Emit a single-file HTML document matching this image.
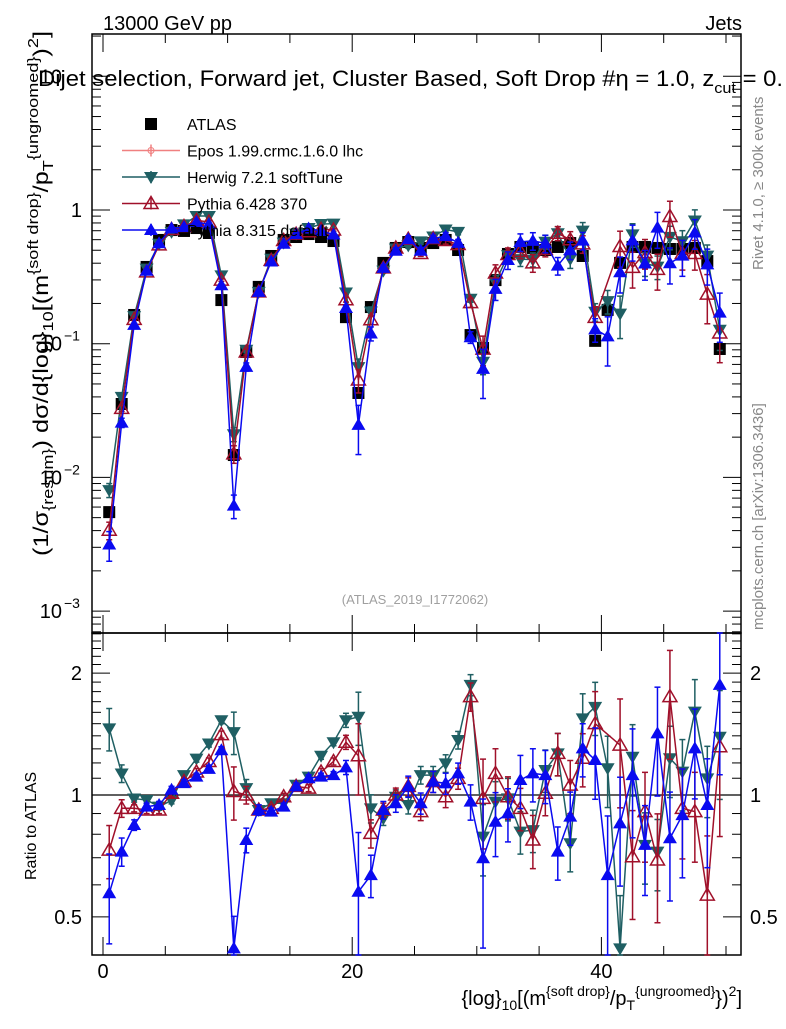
<!DOCTYPE html>
<html><head><meta charset="utf-8"><style>
body{margin:0;background:#fff;}
svg text{font-family:"Liberation Sans",sans-serif;}
</style></head><body>
<svg id="c" width="786" height="1024" viewBox="0 0 786 1024" xmlns="http://www.w3.org/2000/svg">
<rect x="0" y="0" width="786" height="1024" fill="#fff"/>
<text x="103" y="30" font-size="20">13000 GeV pp</text>
<text x="742" y="30" font-size="20" text-anchor="end">Jets</text>
<text x="415" y="604" font-size="13" fill="#a0a0a0" text-anchor="middle">(ATLAS_2019_I1772062)</text>
<text transform="translate(763,270) rotate(-90)" font-size="15" fill="#888">Rivet 4.1.0, ≥ 300k events</text>
<text transform="translate(763,630) rotate(-90)" font-size="15" fill="#888">mcplots.cern.ch [arXiv:1306.3436]</text>
<text transform="translate(48,556) rotate(-90)" font-size="21" textLength="525" lengthAdjust="spacingAndGlyphs">(1/σ<tspan font-size="15" dy="5">{resum}</tspan><tspan dy="-5">) dσ/d{log}</tspan><tspan font-size="15" dy="5">10</tspan><tspan dy="-5">[(m</tspan><tspan font-size="15" dy="-10">{soft drop}</tspan><tspan dy="10">/p</tspan><tspan font-size="15" dy="5">T</tspan><tspan font-size="15" dy="-15">{ungroomed}</tspan><tspan dy="10">)</tspan><tspan font-size="15" dy="-10">2</tspan><tspan dy="10">]</tspan></text>
<text transform="translate(36,880) rotate(-90)" font-size="16">Ratio to ATLAS</text>
<text x="742" y="1005" font-size="20" text-anchor="end">{log}<tspan font-size="14" dy="5">10</tspan><tspan dy="-5">[(m</tspan><tspan font-size="14" dy="-9">{soft drop}</tspan><tspan dy="9">/p</tspan><tspan font-size="14" dy="5">T</tspan><tspan font-size="14" dy="-14">{ungroomed}</tspan><tspan dy="9">})</tspan><tspan font-size="14" dy="-9">2</tspan><tspan dy="9">]</tspan></text>
<g id="plot"></g>
<text x="38" y="86" font-size="22" textLength="745" lengthAdjust="spacingAndGlyphs">Dijet selection, Forward jet, Cluster Based, Soft Drop #η = 1.0, z<tspan font-size="15" dy="7">cut</tspan><tspan dy="-7"> = 0.</tspan></text>
<g id="legend"></g>
</svg>
<script>
const xCenters = [0.5,1.5,2.5,3.5,4.5,5.5,6.5,7.5,8.5,9.5,10.5,11.5,12.5,13.5,14.5,15.5,16.5,17.5,18.5,19.5,20.5,21.5,22.5,23.5,24.5,25.5,26.5,27.5,28.5,29.5,30.5,31.5,32.5,33.5,34.5,35.5,36.5,37.5,38.5,39.5,40.5,41.5,42.5,43.5,44.5,45.5,46.5,47.5,48.5,49.5];
const atlas = [0.0055,0.0354,0.164,0.375,0.597,0.708,0.697,0.733,0.673,0.212,0.0147,0.0867,0.266,0.453,0.597,0.628,0.661,0.628,0.586,0.158,0.0428,0.188,0.402,0.52,0.576,0.52,0.566,0.597,0.502,0.116,0.0929,0.299,0.469,0.529,0.52,0.502,0.529,0.566,0.453,0.105,0.179,0.402,0.529,0.529,0.52,0.511,0.511,0.52,0.415,0.0913];
const ratioHerwig = [1.46,1.13,0.98,0.972,0.936,0.97,1.12,1.23,1.34,1.53,1.43,1.04,0.918,0.954,0.954,1.06,1.11,1.25,1.35,1.53,1.56,0.927,0.876,0.99,0.945,1.12,1.12,1.197,1.367,1.87,0.789,0.963,0.981,0.812,0.819,1.153,1.267,0.76,1.546,1.65,1.164,0.418,1.243,0.753,0.725,1.232,1.142,1.606,1.099,1.393];
const ratioPythia6 = [0.731,0.927,0.927,0.918,0.918,1.01,1.08,1.14,1.21,1.41,1.02,1.0,0.918,0.927,0.99,1.05,1.04,1.14,1.21,1.35,1.25,0.804,0.918,1.0,1.05,0.91,1.079,0.99,1.099,1.75,0.981,1.131,0.99,0.927,0.774,1.01,1.267,1.058,1.232,1.5,null,1.328,0.704,0.91,0.691,1.75,0.927,0.91,0.566,1.316];
const ratioPythia8 = [0.572,0.725,0.843,0.936,0.945,1.03,1.07,1.11,1.16,1.29,0.418,0.774,0.918,0.91,0.936,1.05,1.1,1.11,1.12,1.17,0.577,0.634,0.918,0.954,1.05,0.954,1.079,1.068,1.131,0.963,0.698,0.859,0.901,1.089,1.131,1.12,0.725,0.884,1.304,1.22,0.634,0.851,1.12,0.753,1.42,0.782,0.892,1.304,0.945,1.87];
const errHerwig = [0.12,0.05,0.02,0.02,0.02,0.02,0.02,0.02,0.02,0.02,0.12,0.05,0.02,0.02,0.02,0.02,0.02,0.02,0.02,0.04,0.15,0.08,0.04,0.04,0.05,0.05,0.05,0.05,0.05,0.06,0.2,0.12,0.12,0.12,0.12,0.12,0.12,0.15,0.15,0.15,0.2,0.35,0.2,0.2,0.2,0.2,0.2,0.2,0.2,0.3];
const errPythia6 = [0.15,0.05,0.02,0.02,0.02,0.02,0.02,0.02,0.02,0.02,0.15,0.05,0.02,0.02,0.02,0.02,0.02,0.02,0.02,0.04,0.2,0.08,0.04,0.04,0.05,0.05,0.06,0.06,0.06,0.08,0.25,0.15,0.12,0.12,0.15,0.12,0.12,0.15,0.15,0.2,0.2,0.3,0.3,0.25,0.3,0.3,0.25,0.25,0.4,0.4];
const errPythia8 = [0.25,0.08,0.03,0.02,0.02,0.02,0.02,0.02,0.02,0.02,0.2,0.07,0.03,0.02,0.02,0.02,0.02,0.02,0.02,0.04,0.4,0.12,0.05,0.05,0.06,0.06,0.06,0.06,0.06,0.1,0.4,0.18,0.15,0.15,0.15,0.15,0.15,0.15,0.15,0.2,0.4,0.3,0.3,0.25,0.3,0.3,0.3,0.25,0.3,0.4];
const mainTickLabels = ["10","1","10","10","10"];
const ratioTickValues = [0.5,1,2];
const xTickValues = [0,20,40];

const NS="http://www.w3.org/2000/svg";
const X0=92,X1=741,MT=34,MB=633,RB=955;
function sx(v){return 103+12.46*v;}
function syMain(v){return 210-133.7*Math.log10(v);}
function syRatio(r){return 795-405*Math.log10(r);}
const plot=document.getElementById('plot');
function mk(tag,attrs,parent){const e=document.createElementNS(NS,tag);for(const k in attrs)e.setAttribute(k,attrs[k]);(parent||plot).appendChild(e);return e;}

let f1=mk('rect',{x:X0,y:MT,width:X1-X0,height:MB-MT,fill:'none',stroke:'#000','stroke-width':1.5});


let f2=mk('rect',{x:X0,y:MB,width:X1-X0,height:RB-MB,fill:'none',stroke:'#000','stroke-width':1.5});



for(let v=0;v<=50;v+=5){
  const x=sx(v),L=(v%20===0)?18:9;
  [[MT,MT+L],[MB,MB-L],[MB,MB+L],[RB,RB-L]].forEach(p=>{
    let t=mk('line',{x1:x,x2:x,y1:p[0],y2:p[1],stroke:'#000','stroke-width':1});
    
    
  });
}
xTickValues.forEach(v=>{
  let t=mk('text',{x:sx(v),y:978,'font-size':20,'text-anchor':'middle'});t.textContent=v;
  
  
});
for(let e=-4;e<=1;e++){
  for(let m=1;m<10;m++){
    const v=m*Math.pow(10,e);const y=syMain(v);
    if(y<MT||y>MB)continue;const L=m===1?18:9;
    let a=mk('line',{x1:X0,x2:X0+L,y1:y,y2:y,stroke:'#000'});
    
    
    let b=mk('line',{x1:X1,x2:X1-L,y1:y,y2:y,stroke:'#000'});
    
    
  }
}
[[1,0],[0,1],[-1,2],[-2,3],[-3,4]].forEach(([e,i])=>{
  const y=syMain(Math.pow(10,e));
  let t=mk('text',{x:e===0?82:62,y:y+7,'font-size':20,'text-anchor':'end'});
  t.textContent=mainTickLabels[i];
  
  
  if(e!==0){let s=mk('text',{x:64,y:y-3,'font-size':14});s.textContent=e===1?'':String(e).replace('-','−');
  
  }
});
for(let r=0.4;r<=2.51;r+=0.1){
  const rr=Math.round(r*10)/10;const y=syRatio(rr);if(y<MB||y>RB)continue;
  const L=(rr===0.5||rr===1||rr===2)?18:9;
  let a=mk('line',{x1:X0,x2:X0+L,y1:y,y2:y,stroke:'#000'});
  
  
  let b=mk('line',{x1:X1,x2:X1-L,y1:y,y2:y,stroke:'#000'});
  
  
}
ratioTickValues.forEach(r=>{
  const y=syRatio(r);
  let t=mk('text',{x:82,y:y+7,'font-size':20,'text-anchor':'end'});t.textContent=r;
  
  
  let t2=mk('text',{x:750,y:y+7,'font-size':20});t2.textContent=r;
  
  
});
let one=mk('line',{x1:X0,x2:X1,y1:syRatio(1),y2:syRatio(1),stroke:'#000','stroke-width':1.2});



function marker(kind,color,x,y,parent){
  let e;
  if(kind==='square'){e=mk('rect',{x:x-6,y:y-6,width:12,height:12,fill:'#000'},parent);}
  else if(kind==='down'){e=mk('polygon',{points:`${x-7},${y-5} ${x+7},${y-5} ${x},${y+7}`,fill:color},parent);}
  else if(kind==='up'){e=mk('polygon',{points:`${x-7},${y+5} ${x+7},${y+5} ${x},${y-7}`,fill:color},parent);}
  else if(kind==='upopen'){e=mk('polygon',{points:`${x-7},${y+5} ${x+7},${y+5} ${x},${y-7}`,fill:'none',stroke:color,'stroke-width':1.5},parent);}
  else if(kind==='cross'){e=mk('circle',{cx:x,cy:y,r:3,fill:'none',stroke:color},parent);}
  return e;
}
const series=[
  {name:'herwig',ratio:ratioHerwig,err:errHerwig,color:'#1f5f63',kind:'down'},
  {name:'pythia6',ratio:ratioPythia6,err:errPythia6,color:'#a0102a',kind:'upopen'},
  {name:'pythia8',ratio:ratioPythia8,err:errPythia8,color:'#0a0af0',kind:'up'}
];
atlas.forEach((v,i)=>{
  let m=marker('square','#000',sx(xCenters[i]),syMain(v));
  
  
});
function drawSeries(s,panel){
  const g=mk('g',{});
  
  
  const fy=panel==='main'?(i=>syMain(atlas[i]*s.ratio[i])):(i=>syRatio(s.ratio[i]));
  const lo=Math.min,hi=Math.max;
  const clipY=y=>hi(panel==='main'?MT:MB,lo(panel==='main'?MB:RB,y));
  let pts=[];
  s.ratio.forEach((r,i)=>{if(r==null)return;pts.push(sx(xCenters[i])+','+clipY(fy(i)).toFixed(1));});
  let pl=mk('polyline',{points:pts.join(' '),fill:'none',stroke:s.color,'stroke-width':1.5},g);
  
  
  s.ratio.forEach((r,i)=>{
    if(r==null)return;
    const x=sx(xCenters[i]);
    const base=panel==='main'?atlas[i]*r:r;
    const f=panel==='main'?syMain:syRatio;
    const y1=clipY(f(base*(1+s.err[i]))),y2=clipY(f(Math.max(base*(1-s.err[i]),1e-6)));
    let eb=mk('line',{x1:x,x2:x,y1:y1,y2:y2,stroke:s.color,'stroke-width':1.5},g);
    
    
    [y1,y2].forEach(yy=>{let c=mk('line',{x1:x-3,x2:x+3,y1:yy,y2:yy,stroke:s.color,'stroke-width':1.5},g);
      
      });
    const y=fy(i);
    if(y>=(panel==='main'?MT:MB)&&y<=(panel==='main'?MB:RB)){
      let m=marker(s.kind,s.color,x,y,g);
      
      
    }
  });
}
series.forEach(s=>drawSeries(s,'main'));
series.forEach(s=>drawSeries(s,'ratio'));

const leg=document.getElementById('legend');
const entries=[['ATLAS','square','#000'],['Epos 1.99.crmc.1.6.0 lhc','cross','#f08080'],['Herwig 7.2.1 softTune','down','#1f5f63'],['Pythia 6.428 370','upopen','#a0102a'],['Pythia 8.315 default','up','#0a0af0']];
entries.forEach((e,i)=>{
  const y=124+i*26.5;
  const g=mk('g',{},leg);
  
  
  if(i>0){mk('line',{x1:122,x2:180,y1:y,y2:y,stroke:e[2],'stroke-width':1.5},g);
    mk('line',{x1:151,x2:151,y1:y-6,y2:y+6,stroke:e[2],'stroke-width':1.5},g);}
  marker(e[1],e[2],151,y,g);
  const t=mk('text',{x:187,y:y+6,'font-size':16},g);t.textContent=e[0];
});
</script>
</body></html>
